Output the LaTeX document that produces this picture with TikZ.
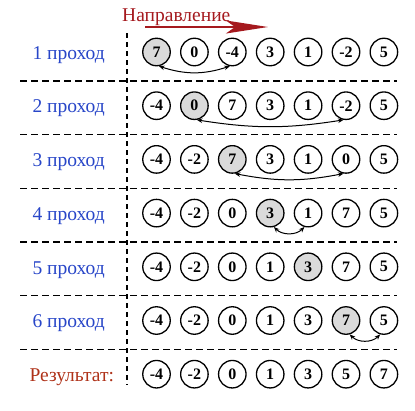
\documentclass[tikz,border=0pt]{standalone}
\usepackage{fontspec}
\setmainfont{Liberation Serif}
\usetikzlibrary{arrows.meta}
\definecolor{passblue}{RGB}{40,70,200}
\definecolor{titlered}{RGB}{165,25,30}
\definecolor{resred}{RGB}{175,50,25}
\definecolor{cellgray}{RGB}{218,218,218}
\begin{document}
\begin{tikzpicture}[x=1pt,y=-1pt,
  num/.style={circle,draw,line width=1.3pt,minimum size=27.5pt,inner sep=0pt,font=\fontsize{16}{16}\selectfont\bfseries},
  sel/.style={num,fill=cellgray},
  lbl/.style={font=\fontsize{19.5}{19.5}\selectfont,text=passblue,anchor=mid west},
  sep/.style={dash pattern=on 7pt off 4pt,line width=1.3pt},
  vsep/.style={dash pattern=on 5pt off 4pt,line width=1.3pt},
  swap/.style={{Stealth[length=5.5pt,width=4.5pt]}-{Stealth[length=5.5pt,width=4.5pt]},line width=1pt}
]
\useasboundingbox (0,0) rectangle (415,410);
% separators
\coordinate (vT) at (127,33);
\coordinate (vB) at (127,385);
\draw[vsep] (vT) -- (vB);
\foreach \i in {1,...,6}{
  \coordinate (hL\i) at (20,{52+53.7*(\i-1)+29});
  \coordinate (hR\i) at (397,{52+53.7*(\i-1)+29});
  \draw[sep] (hL\i) -- (hR\i);
}
% cells
\foreach \r/\s/\vals in {1/1/{7,0,-4,3,1,-2,5},2/2/{-4,0,7,3,1,-2,5},3/3/{-4,-2,7,3,1,0,5},4/4/{-4,-2,0,3,1,7,5},5/5/{-4,-2,0,1,3,7,5},6/6/{-4,-2,0,1,3,7,5},7/0/{-4,-2,0,1,3,5,7}}{
  \foreach \v [count=\c] in \vals {
    \ifnum\c=\s
      \node[sel] (n\r-\c) at ({156.5+37.9*(\c-1)},{52+53.7*(\r-1)}) {\v};
    \else
      \node[num] (n\r-\c) at ({156.5+37.9*(\c-1)},{52+53.7*(\r-1)}) {\v};
    \fi
  }
}
% labels
\foreach \r in {1,...,6}{
  \node[lbl] (l\r) at (29,{52+53.7*(\r-1)+5}) {\r\ проход};
}
\node[lbl,text=resred] (l7) at (26,{52+53.7*6+5}) {Результат:};
% title
\node[anchor=base west,text=titlered,font=\fontsize{19.5}{19.5}\selectfont,inner sep=0pt] (title) at (122,21) {Направление};
\coordinate (ta) at (145,27);
\coordinate (tb) at (268,27);
\draw[titlered,line width=1.8pt,-{Stealth[length=42pt,width=13pt,inset=9pt]}] (ta) -- (tb);
% swaps
\draw[swap] (n1-1.-80) to[bend right=18] (n1-3.-100);
\draw[swap] (n2-2.-80) to[bend right=9] (n2-6.-100);
\draw[swap] (n3-3.-80) to[bend right=11] (n3-6.-100);
\draw[swap] (n4-4.-75) to[bend right=45] (n4-5.-105);
\draw[swap] (n6-6.-75) to[bend right=45] (n6-7.-105);
\end{tikzpicture}
\end{document}
